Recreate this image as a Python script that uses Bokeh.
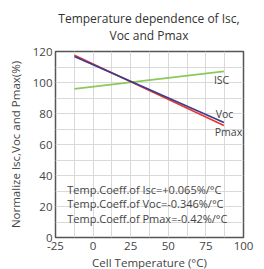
from bokeh.plotting import figure
from bokeh.models import Label, FixedTicker, Div
from bokeh.layouts import column
from bokeh.embed import file_html
from bokeh.resources import INLINE

temps = [-12.4, 87]
isc = [95.9, 107.2]
voc = [116.8, 74.2]
pmax = [117.6, 72.2]

x_ticks = [-25, 0, 25, 50, 75, 100]
y_ticks = [0, 20, 40, 60, 80, 100, 120]
x_minor = [-12.5, 12.5, 37.5, 62.5, 87.5]
y_minor = [10, 30, 50, 70, 90, 110]

series_labels = [("ISC", 85.4, 101.7), ("Voc", 87.4, 80.0), ("Pmax", 90.0, 68.0)]
coeff_texts = ["Temp.Coeff.of Isc=+0.065%/\u00b0C",
               "Temp.Coeff.of Voc=-0.346%/\u00b0C",
               "Temp.Coeff.of Pmax=-0.42%/\u00b0C"]
coeff_y = [31.0, 21.7, 12.5]
title_lines = ["Temperature dependence of Isc,", "Voc and Pmax"]

FONT = "Open Sans"
TXT = "#444444"

title_div = Div(
    text=('<div style="margin:0 0 0 34px;width:230px;text-align:center;'
          "font-family:'Open Sans';font-size:12px;line-height:16.5px;"
          'padding-top:11px;color:#333333;">'
          + title_lines[0] + "<br>" + title_lines[1] + "</div>"),
    width=264, height=44, margin=(0, 0, 0, 0))

p = figure(frame_width=188, frame_height=186, x_range=(-25, 100), y_range=(0, 120),
           output_backend="svg", toolbar_location=None, margin=(0, 0, 0, 0),
           min_border_left=55, min_border_right=21, min_border_top=7, min_border_bottom=31)

p.xaxis.ticker = FixedTicker(ticks=x_ticks, minor_ticks=x_minor)
p.yaxis.ticker = FixedTicker(ticks=y_ticks, minor_ticks=y_minor)
p.xaxis.major_label_overrides = {t: str(t) for t in x_ticks}
p.yaxis.major_label_overrides = {t: str(t) for t in y_ticks}
for ax in (p.xaxis, p.yaxis):
    ax.axis_line_color = None
    ax.major_tick_out = 0
    ax.major_tick_in = 0
    ax.minor_tick_out = 0
    ax.minor_tick_in = 0
    ax.major_label_text_font = FONT
    ax.major_label_text_font_size = "11.5px"
    ax.major_label_text_color = TXT
    ax.axis_label_text_font = FONT
    ax.axis_label_text_font_size = "11.5px"
    ax.axis_label_text_font_style = "normal"
    ax.axis_label_text_color = TXT
p.xaxis.axis_label = "Cell Temperature (\u00b0C)"
p.yaxis.axis_label = "Normalize Isc,Voc and Pmax(%)"
p.xaxis.major_label_standoff = 4
p.yaxis.major_label_standoff = 3
p.xaxis.axis_label_standoff = 2
p.yaxis.axis_label_standoff = 7

for g in (p.xgrid, p.ygrid):
    g.grid_line_color = "#d9d9d9"
    g.minor_grid_line_color = "#d9d9d9"
    g.grid_line_width = 1

p.outline_line_color = "#555555"
p.outline_line_width = 1.5

p.line(temps, isc, line_color="#8cc85a", line_width=1.6)
p.line(temps, pmax, line_color="#e8362f", line_width=1.6)
p.line(temps, voc, line_color="#3b3a8f", line_width=1.6)

for txt, x, y in series_labels:
    p.add_layout(Label(x=x, y=y, text=txt, text_font=FONT, text_font_size="10.5px",
                       text_color=TXT, text_align="center", text_baseline="middle"))

for txt, y in zip(coeff_texts, coeff_y):
    p.add_layout(Label(x=-17.2, y=y, text=txt, text_font=FONT, text_font_size="11px",
                       text_color=TXT, text_align="left", text_baseline="middle"))

layout = column(title_div, p, spacing=0)
open("out.html", "w").write(file_html(layout, INLINE))
